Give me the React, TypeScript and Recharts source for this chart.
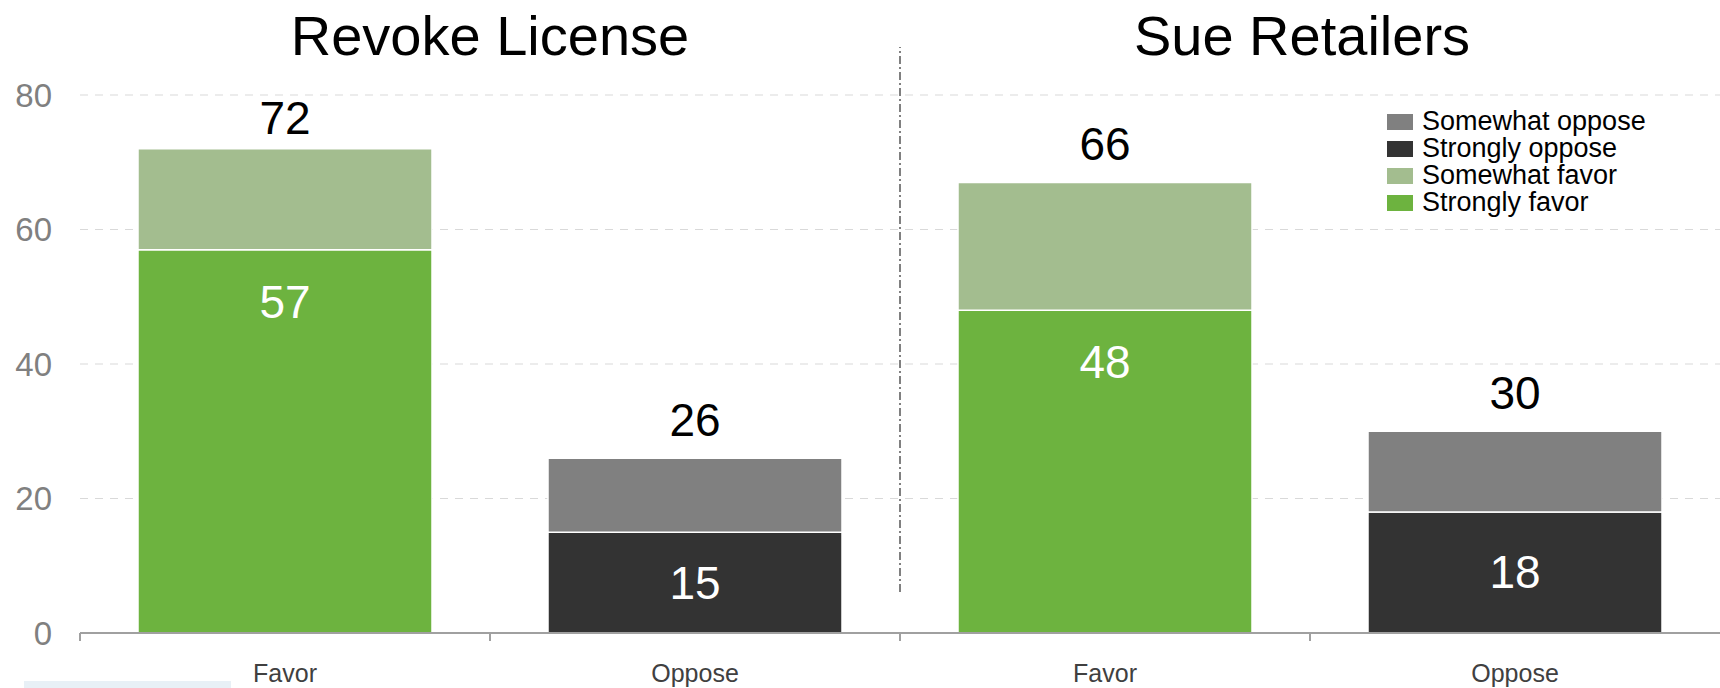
import React from 'react';
import { BarChart, Bar, XAxis, YAxis, CartesianGrid, LabelList } from 'recharts';

const categories = ['Favor', 'Oppose', 'Favor', 'Oppose'];
const stronglyFavor = [57, null, 48, null];
const somewhatFavor = [15, null, 19, null];
const stronglyOppose = [null, 15, null, 18];
const somewhatOppose = [null, 11, null, 12];
const totals = [72, 26, 66, 30];
const panelTitles = ['Revoke License', 'Sue Retailers'];
const yTicks = [0, 20, 40, 60, 80];

const FONT = '"Liberation Sans", Arial, sans-serif';
const W = 1720;
const H = 688;
const LEFT = 80;
const TOP = 95;
const BAND = (W - LEFT) / categories.length;

const SERIES = [
    { key: 'sf', name: 'Strongly favor', color: '#6db33f', values: stronglyFavor },
    { key: 'wf', name: 'Somewhat favor', color: '#a3bd8f', values: somewhatFavor },
    { key: 'so', name: 'Strongly oppose', color: '#333333', values: stronglyOppose },
    { key: 'wo', name: 'Somewhat oppose', color: '#808080', values: somewhatOppose },
];

const data = categories.map((name, i) => {
    const row: Record<string, any> = { name };
    SERIES.forEach(s => { row[s.key] = s.values[i]; });
    // total shown above whichever segment sits on top
    row.wfTop = somewhatFavor[i] != null ? totals[i] : null;
    row.woTop = somewhatOppose[i] != null ? totals[i] : null;
    return row;
});

const InsideLabel = (props: any) => {
    const { x, y, width, height, value } = props;
    if (value == null || !height) return null;
    const cy = height > 130 ? y + 52 : y + height / 2;
    return (
        <text x={x + width / 2} y={cy} textAnchor="middle" dominantBaseline="central"
            fill="#ffffff" fontSize={46} fontFamily={FONT}>{value}</text>
    );
};

const TotalLabel = (props: any) => {
    const { x, y, width, value } = props;
    if (value == null) return null;
    // keep the label from rising above the plot top
    const cy = Math.max(y - 38, TOP + 23);
    return (
        <text x={x + width / 2} y={cy} textAnchor="middle" dominantBaseline="central"
            fill="#000000" fontSize={46} fontFamily={FONT}>{value}</text>
    );
};

const CategoryTick = (props: any) => {
    const { x, y, payload, index } = props;
    const left = x - BAND / 2;
    return (
        <g>
            <line x1={left} y1={y} x2={left} y2={y + 8} stroke="#a0a0a0" strokeWidth={2} />
            {index === 2 && (
                <line x1={left} y1={y - 41} x2={left} y2={y - 586} stroke="#808080" strokeWidth={2} strokeDasharray="8 3 2 3" />
            )}
            <text x={x} y={y + 40} textAnchor="middle" dominantBaseline="central"
                fill="#404040" fontSize={25} fontFamily={FONT}>{payload.value}</text>
        </g>
    );
};

const LegendBox = () => (
    <div style={{ position: 'absolute', left: 1387, top: 108, fontFamily: FONT, fontSize: 27, color: '#000' }}>
        {[...SERIES].reverse().map(s => (
            <div key={s.key} style={{ display: 'flex', alignItems: 'center', height: 27 }}>
                <span style={{ width: 26, height: 16, background: s.color, marginRight: 9, display: 'inline-block' }} />
                <span style={{ lineHeight: '27px', whiteSpace: 'nowrap' }}>{s.name}</span>
            </div>
        ))}
    </div>
);

export default function App() {
    return (
        <div style={{ position: 'absolute', left: 0, top: 0, width: W, height: H, background: '#fff', overflow: 'hidden' }}>
            <BarChart width={W} height={H} data={data} margin={{ top: TOP, right: 0, bottom: 0, left: 0 }}
                style={{ position: 'absolute', left: 0, top: 0 }}>
                <CartesianGrid vertical={false} stroke="#d9d9d9" strokeDasharray="8 7" />
                <XAxis dataKey="name" height={55} interval={0} tickSize={0} tickMargin={0}
                    axisLine={{ stroke: '#a0a0a0', strokeWidth: 2 }} tickLine={false} tick={<CategoryTick />} />
                <YAxis width={LEFT} domain={[0, 80]} ticks={yTicks} axisLine={false} tickLine={false}
                    tickSize={0} tickMargin={28}
                    tick={{ fill: '#808080', fontSize: 33, fontFamily: FONT }} />
                <Bar dataKey="sf" name="Strongly favor" stackId="a" fill="#6db33f" barSize={294}
                    stroke="#ffffff" strokeWidth={1.5} isAnimationActive={false}>
                    <LabelList dataKey="sf" content={<InsideLabel />} />
                </Bar>
                <Bar dataKey="wf" name="Somewhat favor" stackId="a" fill="#a3bd8f" barSize={294}
                    stroke="#ffffff" strokeWidth={1.5} isAnimationActive={false}>
                    <LabelList dataKey="wfTop" content={<TotalLabel />} />
                </Bar>
                <Bar dataKey="so" name="Strongly oppose" stackId="a" fill="#333333" barSize={294}
                    stroke="#ffffff" strokeWidth={1.5} isAnimationActive={false}>
                    <LabelList dataKey="so" content={<InsideLabel />} />
                </Bar>
                <Bar dataKey="wo" name="Somewhat oppose" stackId="a" fill="#808080" barSize={294}
                    stroke="#ffffff" strokeWidth={1.5} isAnimationActive={false}>
                    <LabelList dataKey="woTop" content={<TotalLabel />} />
                </Bar>
            </BarChart>
            {panelTitles.map((t, i) => (
                <div key={t} style={{
                    position: 'absolute', top: 4, left: LEFT + i * BAND * 2 - i * 8, width: BAND * 2,
                    textAlign: 'center', fontFamily: FONT, fontSize: 56, lineHeight: '64px', color: '#000',
                }}>{t}</div>
            ))}
            <LegendBox />
            <div style={{ position: 'absolute', left: 24, top: 681, width: 207, height: 7, background: '#e8f0f6' }} />
        </div>
    );
}
